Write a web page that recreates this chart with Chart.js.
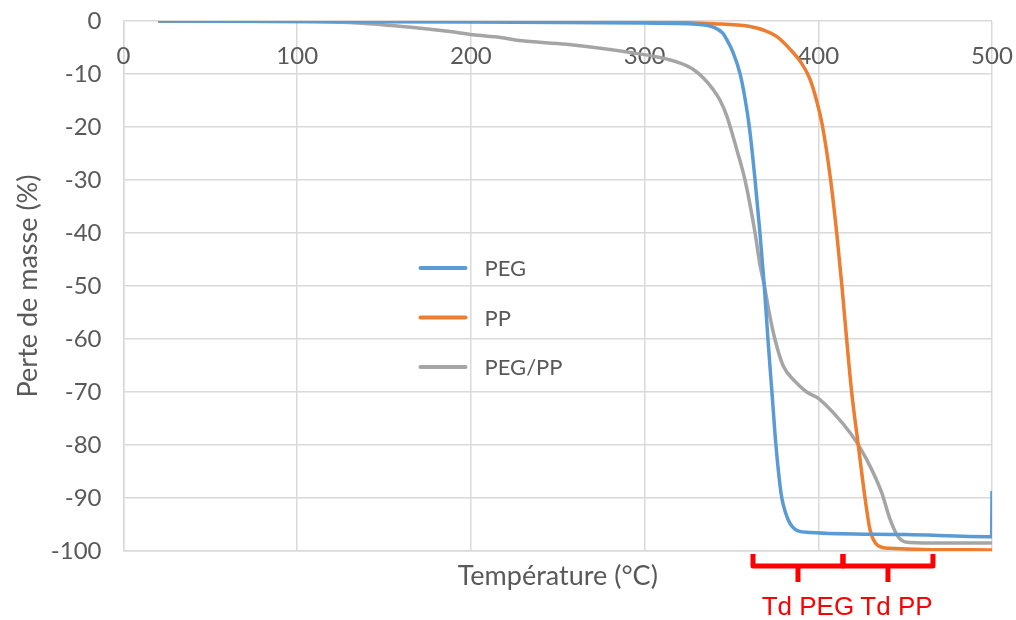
<!DOCTYPE html>
<html>
<head>
<meta charset="utf-8">
<script src="https://cdn.jsdelivr.net/npm/chart.js@4/dist/chart.umd.min.js"></script>
<style>
  html, body { margin: 0; padding: 0; background: #fff; }
  #wrap { width: 1016px; height: 620px; }
</style>
</head>
<body>
<div id="wrap"><canvas id="tgaChart" width="1016" height="620"></canvas></div>
<script>
// Values (temperature in °C, mass loss in %)
const pegTemp = [20, 100, 200, 300, 330, 340, 345, 347.3, 351, 355, 358, 360.3, 363.6, 366.4, 368.9, 371, 373.3, 375.6, 378.5, 380, 382.5, 385, 388.3, 395, 450, 499.8, 500];
const pegMass = [0, -0.1, -0.2, -0.4, -0.6, -1.2, -2.3, -3.5, -6, -10, -15, -20, -30, -40, -50, -60, -70, -80, -89, -91.5, -94, -95.4, -96.2, -96.5, -96.9, -97.3, -88.7];

const ppTemp = [20, 100, 200, 300, 340, 360, 370, 376, 383.7, 390, 395, 399, 402.5, 407.1, 410.6, 413.6, 416.3, 419.2, 423, 426.9, 429.8, 434.5, 441.3, 460, 500];
const ppMass = [0, 0, 0, -0.2, -0.5, -1.0, -1.9, -2.9, -5.3, -7.8, -10.8, -15, -20, -30, -40, -50, -60, -70, -80, -90, -96, -99, -99.5, -99.7, -99.8];

const blendTemp = [20, 100, 130, 159, 175, 188, 201, 217, 228, 255, 293, 308.9, 320, 327.9, 334, 339.4, 343.5, 347.3, 353, 357.8, 363.6, 366.4, 369, 372, 375, 379.7, 386.6, 393.3, 400, 408.6, 418.3, 424, 430.7, 436.5, 441.3, 445, 448, 453, 470, 500];
const blendMass = [0, -0.1, -0.3, -1, -1.5, -2, -2.6, -3.1, -3.7, -4.4, -6, -6.9, -7.9, -9.1, -10.8, -12.9, -15, -17.9, -24.2, -30, -40, -46, -50, -55.5, -60, -65, -68, -70, -71.2, -73.9, -77.7, -80.5, -84.6, -89, -94, -96.8, -98, -98.4, -98.5, -98.5];

const seriesNames = ['PEG', 'PP', 'PEG/PP'];
const seriesColors = ['#5b9bd5', '#ed7d31', '#a5a5a5'];
const xTickLabels = [0, 100, 200, 300, 400, 500];

// Decomposition ranges marked under the axis
const tdLabels = ['Td PEG', 'Td PP'];
const tdRanges = [[362.4, 414.2], [414.2, 466]];
const tdTextAt = [394, 445];

const textColor = '#595959';
const gridColor = '#d9d9d9';
const fontFamily = 'Lato, "Open Sans", sans-serif';

function toPoints(xs, ys) {
    return xs.map((t, i) => ({ x: t, y: ys[i] }));
}

// x tick labels sit just under the top edge of the plot
const topTicks = {
    id: 'topTicks',
    beforeDatasetsDraw(chart) {
        const { ctx, chartArea, scales } = chart;
        ctx.save();
        ctx.font = '24px ' + fontFamily;
        ctx.fillStyle = textColor;
        ctx.textAlign = 'center';
        ctx.textBaseline = 'middle';
        xTickLabels.forEach(v => {
            ctx.fillText(String(v), scales.x.getPixelForValue(v), chartArea.top + 35);
        });
        ctx.restore();
    }
};

// legend drawn inside the plot area
const innerLegend = {
    id: 'innerLegend',
    afterDatasetsDraw(chart) {
        const { ctx, chartArea } = chart;
        ctx.save();
        ctx.font = '22px ' + fontFamily;
        ctx.textAlign = 'left';
        ctx.textBaseline = 'middle';
        chart.data.datasets.forEach((ds, i) => {
            const y = chartArea.top + 247 + i * 49.5;
            const x0 = chartArea.left + 297;
            ctx.strokeStyle = ds.borderColor;
            ctx.lineWidth = 4;
            ctx.lineCap = 'round';
            ctx.beginPath();
            ctx.moveTo(x0, y);
            ctx.lineTo(x0 + 45, y);
            ctx.stroke();
            ctx.fillStyle = textColor;
            ctx.fillText(ds.label, x0 + 64, y + 1);
        });
        ctx.restore();
    }
};

// red braces with Td labels below the plot
const tdBraces = {
    id: 'tdBraces',
    afterDraw(chart) {
        const { ctx, chartArea, scales } = chart;
        const top = chartArea.bottom + 3;
        const mid = chartArea.bottom + 15;
        const tip = chartArea.bottom + 31;
        ctx.save();
        ctx.strokeStyle = '#ff0000';
        ctx.lineWidth = 5;
        ctx.lineJoin = 'round';
        ctx.lineCap = 'butt';
        tdRanges.forEach(r => {
            const a = scales.x.getPixelForValue(r[0]);
            const b = scales.x.getPixelForValue(r[1]);
            const c = (a + b) / 2;
            ctx.beginPath();
            ctx.moveTo(a, top);
            ctx.lineTo(a, mid);
            ctx.lineTo(b, mid);
            ctx.lineTo(b, top);
            ctx.stroke();
            ctx.beginPath();
            ctx.moveTo(c, mid);
            ctx.lineTo(c, tip);
            ctx.stroke();
        });
        ctx.font = '26px "Liberation Sans", Arial, sans-serif';
        ctx.fillStyle = '#ff0000';
        ctx.textAlign = 'center';
        ctx.textBaseline = 'middle';
        tdLabels.forEach((t, i) => {
            ctx.fillText(t, scales.x.getPixelForValue(tdTextAt[i]), chartArea.bottom + 57);
        });
        ctx.restore();
    }
};

const ctx = document.getElementById('tgaChart').getContext('2d');
new Chart(ctx, {
    type: 'line',
    data: {
        datasets: [
            { label: seriesNames[0], data: toPoints(pegTemp, pegMass), borderColor: seriesColors[0] },
            { label: seriesNames[1], data: toPoints(ppTemp, ppMass), borderColor: seriesColors[1] },
            { label: seriesNames[2], data: toPoints(blendTemp, blendMass), borderColor: seriesColors[2] }
        ]
    },
    options: {
        responsive: false,
        animation: false,
        layout: { padding: { left: 12, right: 24, top: 21, bottom: 30 } },
        elements: {
            point: { radius: 0 },
            line: { borderWidth: 3.5, cubicInterpolationMode: 'monotone', fill: false }
        },
        plugins: {
            legend: { display: false },
            tooltip: { enabled: false }
        },
        scales: {
            x: {
                type: 'linear',
                min: 0,
                max: 500,
                ticks: { stepSize: 100, display: false },
                grid: { color: gridColor, lineWidth: 1.5, drawTicks: false },
                border: { color: gridColor, width: 1.5 },
                title: {
                    display: true,
                    text: 'Température (°C)',
                    color: textColor,
                    font: { family: fontFamily, size: 27 },
                    padding: { top: 0, bottom: -2 }
                },
                afterFit(scale) { scale.height = 39; }
            },
            y: {
                min: -100,
                max: 0,
                ticks: {
                    stepSize: 10,
                    color: textColor,
                    padding: 22,
                    font: { family: fontFamily, size: 24 }
                },
                grid: { color: gridColor, lineWidth: 1.5, drawTicks: false },
                border: { color: gridColor, width: 1.5 },
                title: {
                    display: true,
                    text: 'Perte de masse (%)',
                    color: textColor,
                    font: { family: fontFamily, size: 27 },
                    padding: 0
                },
                afterFit(scale) {
                    scale.width = 111.5;
                    scale.paddingTop = 0;
                    scale.paddingBottom = 0;
                }
            }
        }
    },
    plugins: [topTicks, innerLegend, tdBraces]
});
</script>
</body>
</html>
